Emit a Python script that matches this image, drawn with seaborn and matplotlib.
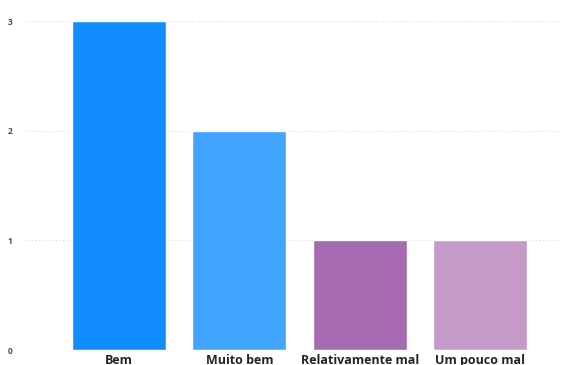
import matplotlib
matplotlib.use("Agg")
import matplotlib.pyplot as plt
import seaborn as sns
import pandas as pd

categorias = ["Bem", "Muito bem", "Relativamente mal", "Um pouco mal"]
valores = [3, 2, 1, 1]
cores = ["#118DFF", "#41A4FF", "#A66AB0", "#C59AC9"]

df = pd.DataFrame({"categoria": categorias, "valor": valores})

sns.set_style("white")
plt.rcParams["font.family"] = ["Open Sans", "DejaVu Sans"]

fig = plt.figure(figsize=(5.7, 3.65), dpi=100)
ax = fig.add_axes([0.044, 0.041, 0.938, 0.901])

sns.barplot(data=df, x="categoria", y="valor", hue="categoria", palette=cores,
            width=0.78, legend=False, ax=ax, saturation=1)

ax.set_ylim(0, 3)
ax.set_xlim(-0.78, 3.66)
ax.set_yticks([0, 1, 2, 3])
ax.yaxis.grid(True, linestyle=(0, (1, 2.5)), color="#D4D4D4", linewidth=0.7)
ax.set_axisbelow(True)
ax.set_xlabel("")
ax.set_ylabel("")
sns.despine(ax=ax, left=True, bottom=True)
ax.tick_params(axis="y", length=0, pad=9, labelsize=6, labelcolor="#4A4A4A")
ax.tick_params(axis="x", length=0, pad=3, labelsize=9, labelcolor="#252423")
for t in ax.get_xticklabels():
    t.set_fontweight("bold")
for t in ax.get_yticklabels():
    t.set_fontweight("bold")

fig.savefig("out.png", dpi=100)
